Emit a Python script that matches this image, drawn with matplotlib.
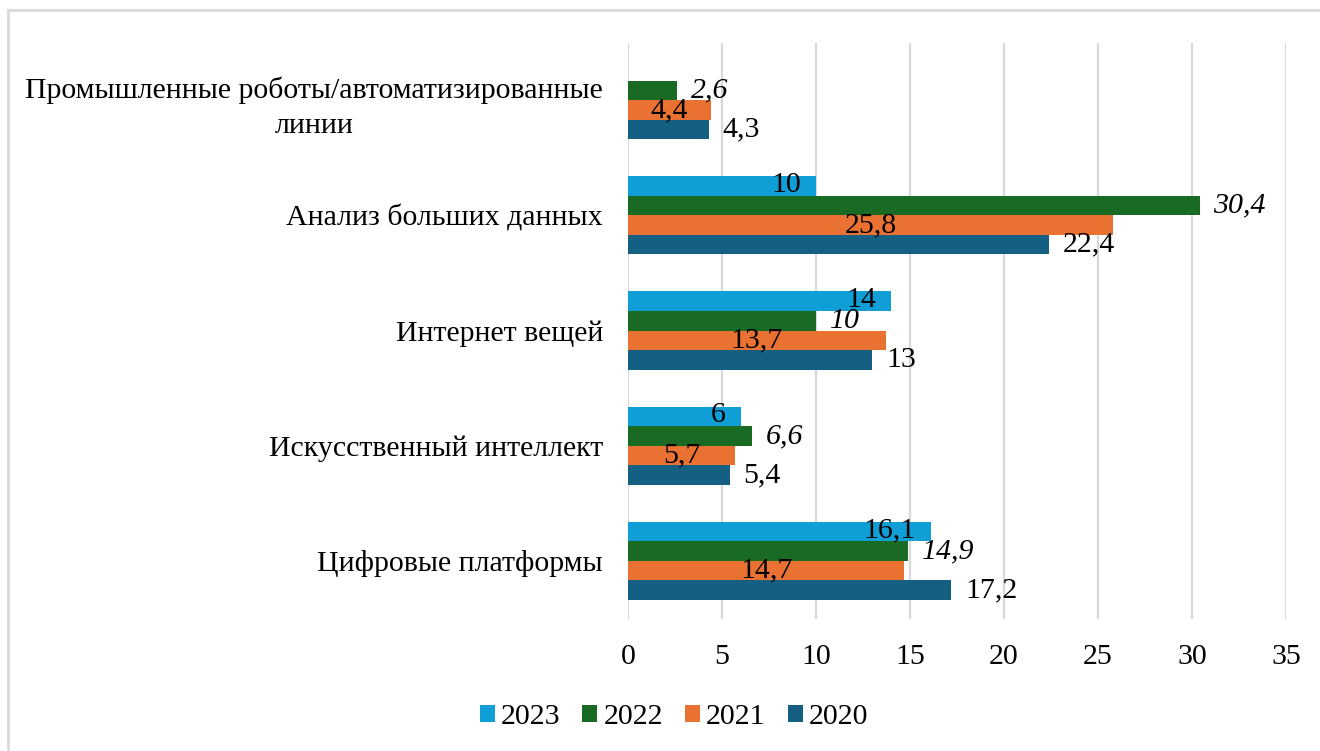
import matplotlib
matplotlib.use("Agg")
import matplotlib.pyplot as plt
import numpy as np
from matplotlib.patches import Rectangle

categories = ["Промышленные роботы/автоматизированные\nлинии",
              "Анализ больших данных",
              "Интернет вещей",
              "Искусственный интеллект",
              "Цифровые платформы"]
series_names = ["2023", "2022", "2021", "2020"]
v2023 = [None, 10, 14, 6, 16.1]
v2022 = [2.6, 30.4, 10, 6.6, 14.9]
v2021 = [4.4, 25.8, 13.7, 5.7, 14.7]
v2020 = [4.3, 22.4, 13, 5.4, 17.2]
xticks = [0, 5, 10, 15, 20, 25, 30, 35]

colors = ["#0F9ED5", "#196B24", "#E97132", "#156082"]
label_modes = ["inside_end", "outside_end_italic", "center", "outside_end"]

plt.rcParams['font.family'] = ['Liberation Serif', 'DejaVu Serif']

fig = plt.figure(figsize=(13.2, 7.51), dpi=100)
ax = fig.add_axes([628/1320, 1 - 618.5/751, (1286-628)/1320, (618.5-42.5)/751])

fs = 21.5
h = 0.17
y = np.arange(len(categories))
offsets = [-1.5*h, -0.5*h, 0.5*h, 1.5*h]
all_series = [v2023, v2022, v2021, v2020]

def fmt(v):
    return ("%g" % v).replace(".", ",")

handles = []
for s_i, (vals, c, name, mode) in enumerate(zip(all_series, colors, series_names, label_modes)):
    ys = [yy + offsets[s_i] for yy, v in zip(y, vals) if v is not None]
    vs = [v for v in vals if v is not None]
    bars = ax.barh(ys, vs, height=h, color=c, label=name, zorder=3)
    handles.append(bars)
    for yy, v in zip(ys, vs):
        if mode == "inside_end":
            ax.annotate(fmt(v), (v, yy), xytext=(-11, 1), textcoords="offset points",
                        ha="right", va="center", fontsize=fs, zorder=4)
        elif mode == "outside_end_italic":
            ax.annotate(fmt(v), (v, yy), xytext=(10, 0), textcoords="offset points",
                        ha="left", va="center", fontsize=fs, style="italic", zorder=4)
        elif mode == "center":
            ax.annotate(fmt(v), (v/2, yy), xytext=(0, 0), textcoords="offset points",
                        ha="center", va="center", fontsize=fs, zorder=4)
        else:
            ax.annotate(fmt(v), (v, yy), xytext=(10, 0), textcoords="offset points",
                        ha="left", va="center", fontsize=fs, zorder=4)

ax.set_ylim(len(categories) - 0.5, -0.5)
ax.set_xlim(0, 35)
ax.set_xticks(xticks)
ax.set_xticklabels([str(t) for t in xticks], fontsize=fs)
ax.set_yticks(y)
ax.set_yticklabels(categories, fontsize=fs, multialignment="center", linespacing=1.45)
ax.tick_params(axis="both", length=0)
ax.tick_params(axis="y", pad=18)
ax.tick_params(axis="x", pad=18)
for sp in ax.spines.values():
    sp.set_visible(False)
ax.xaxis.grid(True, color="#D9D9D9", linewidth=1.6, zorder=0)
ax.set_axisbelow(True)

fig.legend(handles=handles, labels=series_names, loc="center", bbox_to_anchor=(674/1320, 1 - 717/751),
           ncol=4, frameon=False, fontsize=fs, handlelength=0.5, handleheight=0.5,
           handletextpad=0.2, columnspacing=0.75)

fig.patches.append(Rectangle((8/1320, -0.1), 1.2, (751-10)/751 + 0.1, transform=fig.transFigure,
                             fill=False, edgecolor="#D9D9D9", linewidth=2))

fig.savefig("out.png", dpi=100)
